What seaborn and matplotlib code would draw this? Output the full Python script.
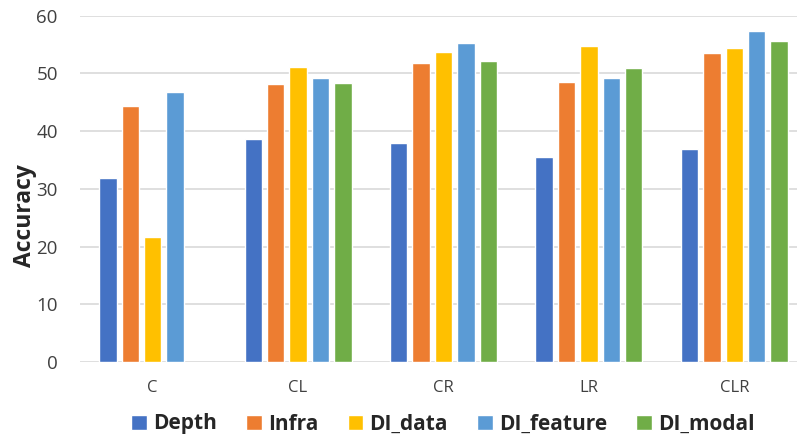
import matplotlib
matplotlib.use("Agg")
import matplotlib.pyplot as plt
import seaborn as sns
import pandas as pd
import numpy as np

categories = ["C", "CL", "CR", "LR", "CLR"]
methods = ["Depth", "Infra", "DI_data", "DI_feature", "DI_modal"]
depth = [31.8, 38.7, 37.9, 35.5, 36.9]
infra = [44.4, 48.2, 51.8, 48.5, 53.5]
di_data = [21.7, 51.1, 53.7, 54.8, 54.4]
di_feature = [46.7, 49.2, 55.2, 49.2, 57.3]
di_modal = [np.nan, 48.4, 52.2, 51.0, 55.7]
colors = ["#4472C4", "#ED7D31", "#FFC000", "#5B9BD5", "#70AD47"]
yticks = [0, 10, 20, 30, 40, 50, 60]

series = dict(zip(methods, [depth, infra, di_data, di_feature, di_modal]))
rows = []
for m in methods:
    for c, v in zip(categories, series[m]):
        rows.append({"Split": c, "Method": m, "Accuracy": v})
df = pd.DataFrame(rows)

sns.set_theme(style="white")
plt.rcParams["font.family"] = ["Open Sans", "DejaVu Sans"]

fig = plt.figure(figsize=(7.97, 4.38), dpi=100)
ax = fig.add_axes([80 / 797, 1 - 362 / 438, 727 / 797, (362 - 15.7) / 438])

sns.barplot(data=df, x="Split", y="Accuracy", hue="Method", hue_order=methods,
            order=categories, palette=colors, width=0.77, gap=0.22,
            saturation=1, ax=ax, legend=True, errorbar=None)

ax.set_ylim(0, 60)
ax.set_xlim(-0.5, 4.5)
ax.set_yticks(yticks)
ax.yaxis.grid(True, color="#D9D9D9", linewidth=1.2)
ax.set_axisbelow(True)
for s in ax.spines.values():
    s.set_visible(False)
ax.tick_params(axis="both", length=0, colors="#404040")
ax.tick_params(axis="x", pad=13, labelsize=12)
ax.tick_params(axis="y", pad=16, labelsize=13.5)
ax.set_xlabel("")
ax.set_ylabel("Accuracy", fontsize=16.5, fontweight="bold", color="#262626")
ax.yaxis.set_label_coords(-0.059, 0.424)

handles, labels = ax.get_legend_handles_labels()
ax.legend_.remove()
fig.legend(handles, labels, loc="center", bbox_to_anchor=(443 / 797, 1 - 424 / 438),
           ncol=5, frameon=False, handlelength=0.75, handleheight=0.75,
           handletextpad=0.3, columnspacing=1.4,
           prop={"size": 15, "weight": "bold"}, labelcolor="#262626")

fig.savefig("out.png", dpi=100)
